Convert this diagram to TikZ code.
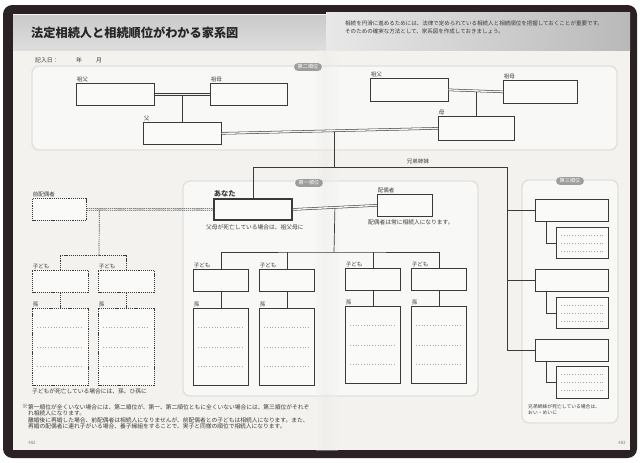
\documentclass[tikz,border=0pt]{standalone}
\usepackage{fontspec}
\setmainfont{Noto Sans CJK JP}
\usetikzlibrary{calc}
\definecolor{paper}{HTML}{F3F2EE}
\definecolor{cover}{HTML}{2B2024}
\definecolor{ink}{HTML}{3A3A3A}
\definecolor{panelline}{HTML}{E1E0DC}
\definecolor{badgec}{HTML}{9D9D9D}
\tikzset{
  famrect/.style 2 args={draw=ink, line width=0.6pt, fill=paper!40!white, inner sep=0pt, anchor=north west, minimum width=#1*0.03cm, minimum height=#2*0.03cm},
  exrect/.style 2 args={famrect={#1}{#2}, dash pattern=on 1pt off 0.8pt},
  lbl/.style={inner sep=0.6pt, anchor=south west, font=\fontsize{4.7}{5}\selectfont, text=ink},
  note/.style={inner sep=0pt, anchor=west, font=\fontsize{4.9}{5.6}\selectfont, text=ink},
  badge/.style={fill=badgec, text=white, rounded corners=3pt, inner xsep=3pt, inner ysep=1.2pt, font=\fontsize{4.4}{5}\selectfont},
  panel/.style={draw=panelline, line width=1.2pt, fill=paper!55!white, rounded corners=6pt},
  link/.style={draw=ink, line width=0.6pt},
  exlink/.style={link, dash pattern=on 1pt off 0.8pt},
  dbl/.style={draw=ink, line width=0.45pt, double=paper, double distance=1.2pt},
  exdbl/.style={dbl, dash pattern=on 1pt off 0.8pt},
  dotrule/.style={draw=gray!70, line width=0.35pt, dotted},
}
\begin{document}
\begin{tikzpicture}[x=0.03cm,y=-0.03cm]
        \useasboundingbox (0,0) rectangle (640,462);
        \fill[white] (0,0) rectangle (640,462);
        \fill[cover, rounded corners=8pt] (3,5) rectangle (637,458);
        \fill[paper] (13,14) rectangle (630,450);
        \shade[top color=gray!42, bottom color=gray!26] (13,15) rectangle (326,50);
        \shade[left color=gray!18, right color=gray!55] (326,12) rectangle (630,50);

        \draw[panel] (32,66) rectangle (617,150);
        \draw[panel] (183,181) rectangle (478,396);
        \draw[panel] (522,180) rectangle (618,423);
        \shade[left color=paper, right color=gray!20, opacity=0.35] (316,50) rectangle (327,450);
        \shade[left color=gray!15, right color=paper, opacity=0.35] (327,50) rectangle (338,450);

        \node[anchor=west, inner sep=0pt, font=\bfseries\fontsize{10.4}{12}\selectfont, text=black!85] (title) at (31,33) {法定相続人と相続順位がわかる家系図};
        \node[anchor=north west, align=left, inner sep=0pt, font=\fontsize{4.7}{6.2}\selectfont, text=ink] (intro) at (345,21) {相続を円滑に進めるためには、法律で定められている相続人と相続順位を把握しておくことが重要です。\\そのための確実な方法として、家系図を作成しておきましょう。};
        \node[note, font=\fontsize{5}{6}\selectfont] (date) at (35,60) {記入日：};
        \node[note, font=\fontsize{5}{6}\selectfont] (year) at (76,60) {年};
        \node[note, font=\fontsize{5}{6}\selectfont] (month) at (96,60) {月};

        \node[badge] (ord2) at (308,67) {第二順位};
        \node[badge] (ord1) at (309,183) {第一順位};
        \node[badge] (ord3) at (570,181) {第三順位};

        \node[famrect={78}{22}] (gfP) at (76,83) {};
        \node[famrect={77}{22}] (gmP) at (210,83) {};
        \node[famrect={78}{22}] (faP) at (143,122) {};
        \node[famrect={78}{23}] (gfM) at (370,78) {};
        \node[famrect={74}{23}] (gmM) at (503,80) {};
        \node[famrect={76}{24}] (moM) at (438,116) {};
        \node[lbl] (gfPl) at (gfP.north west) {祖父};
        \node[lbl] (gmPl) at (gmP.north west) {祖母};
        \node[lbl] (faPl) at (faP.north west) {父};
        \node[lbl] (gfMl) at (gfM.north west) {祖父};
        \node[lbl] (gmMl) at (gmM.north west) {祖母};
        \node[lbl] (moMl) at (moM.north west) {母};

        \node[famrect={78}{21}, line width=1.6pt] (you) at (213,198) {};
        \node[lbl, font=\bfseries\fontsize{6.2}{7}\selectfont] (youl) at (you.north west) {あなた};
        \node[note, anchor=north] (younote) at ($(you.south)+(2,4)$) {父母が死亡している場合は、祖父母に};
        \node[famrect={55}{22}] (sp) at (377,194) {};
        \node[lbl] (spl) at (sp.north west) {配偶者};
        \node[note, anchor=north] (spnote) at ($(sp.south)+(6,3)$) {配偶者は常に相続人になります。};

        \node[exrect={54}{22}] (ex) at (32,198) {};
        \node[lbl] (exl) at (ex.north west) {前配偶者};
        \node[exrect={56}{22}] (lc1) at (32,270) {};
        \node[exrect={56}{22}] (lc2) at (98,270) {};
        \node[exrect={56}{77}] (lg1) at (32,308) {};
        \node[exrect={56}{77}] (lg2) at (98,308) {};
        \node[lbl] (lc1l) at (lc1.north west) {子ども};
        \node[lbl] (lc2l) at (lc2.north west) {子ども};
        \node[lbl] (lg1l) at (lg1.north west) {孫};
        \node[lbl] (lg2l) at (lg2.north west) {孫};
        \node[note] (lgnote) at (32,391) {子どもが死亡している場合には、孫、ひ孫に};

        \node[famrect={55}{22}] (k1) at (193,269) {};
        \node[famrect={55}{22}] (k2) at (259,269) {};
        \node[famrect={55}{22}] (k3) at (345,268) {};
        \node[famrect={55}{22}] (k4) at (411,268) {};
        \node[famrect={55}{77}] (g1) at (193,308) {};
        \node[famrect={55}{77}] (g2) at (259,308) {};
        \node[famrect={55}{77}] (g3) at (345,306) {};
        \node[famrect={55}{77}] (g4) at (411,306) {};
        \node[lbl] (k1l) at (k1.north west) {子ども};
        \node[lbl] (k2l) at (k2.north west) {子ども};
        \node[lbl] (k3l) at (k3.north west) {子ども};
        \node[lbl] (k4l) at (k4.north west) {子ども};
        \node[lbl] (g1l) at (g1.north west) {孫};
        \node[lbl] (g2l) at (g2.north west) {孫};
        \node[lbl] (g3l) at (g3.north west) {孫};
        \node[lbl] (g4l) at (g4.north west) {孫};

        \node[famrect={73}{22}] (s1) at (535,199) {};
        \node[famrect={73}{22}] (s2) at (535,269) {};
        \node[famrect={73}{22}] (s3) at (535,339) {};
        \node[famrect={52}{31}] (n1) at (556,227) {};
        \node[famrect={52}{31}] (n2) at (556,297) {};
        \node[famrect={52}{32}] (n3) at (556,366) {};
        \node[lbl, anchor=south] (sibl) at (418,165) {兄弟姉妹};
        \node[note, anchor=north west, align=left, font=\fontsize{4.1}{5.7}\selectfont] (sibnote) at (528,404) {兄弟姉妹が死亡している場合は、\\おい・めいに};

        \node[note, anchor=north west] (fnmark) at (22,404) {※};
        \node[note, anchor=north west, align=left] (fntext) at (28,404) {第一順位が全くいない場合には、第二順位が、第一、第二順位ともに全くいない場合には、第三順位がそれぞ\\れ相続人になります。\\離婚後に再婚した場合、前配偶者は相続人になりませんが、前配偶者との子どもは相続人になります。また、\\再婚の配偶者に連れ子がいる場合、養子縁組をすることで、実子と同様の順位で相続人になります。};
        \node[font=\fontsize{3.8}{4}\selectfont, text=gray] (pgl) at (32,443) {482};
        \node[font=\fontsize{3.8}{4}\selectfont, text=gray] (pgr) at (622,443) {483};

        \coordinate (pPmid) at ($(gfP.east)!0.5!(gmP.west)$);
        \coordinate (pMmid) at ($(gfM.east)!0.5!(gmM.west)$);
        \coordinate (fmMid) at ($(faP.east)!0.52!(moM.west)$);
        \coordinate (sibEnd) at (507,167);
        \coordinate (cMid) at ($(you.east)!0.5!(sp.west)$);
        \coordinate (kidBar) at (334,252);
        \coordinate (exMid) at ($(ex.east)!0.1!(you.west)$);
        \coordinate (exBar) at (99,255);

        \draw[link] (pPmid) -- (pPmid |- faP.north);
        \draw[link] (pMmid) -- (pMmid |- moM.north);
        \draw[link] (fmMid) -- (fmMid |- sibEnd);
        \draw[link] (you.north) |- (sibEnd) |- (s3.west);
        \draw[link] (s1.west) -- (s1.west -| sibEnd);
        \draw[link] (s2.west) -- (s2.west -| sibEnd);
        \foreach \s/\n in {s1/n1,s2/n2,s3/n3}
            \draw[link] ($(\s.south west)+(11,0)$) |- (\n.west);
        \draw[link] (cMid) -- (kidBar);
        \draw[link] (k1.north) |- (kidBar) -| (k4.north);
        \draw[link] (k2.north) -- (k2.north |- kidBar);
        \draw[link] (k3.north) -- (k3.north |- kidBar);
        \foreach \a/\b in {k1/g1,k2/g2,k3/g3,k4/g4}
            \draw[link] (\a.south) -- (\a.south |- \b.north);
        \draw[exlink] (exMid) -- (exBar);
        \draw[exlink] (lc1.north) |- (exBar) -| (lc2.north);
        \foreach \a/\b in {lc1/lg1,lc2/lg2}
            \draw[exlink] (\a.south) -- (\a.south |- \b.north);

        \draw[dbl] (gfP.east) -- (gmP.west);
        \draw[dbl] (gfM.east) -- (gmM.west);
        \draw[dbl] (faP.east) -- (moM.west);
        \draw[dbl] (you.east) -- (sp.west);
        \draw[exdbl] (ex.east) -- (you.west);

        \foreach \b in {lg1,lg2,g1,g2,g3,g4,n1,n2,n3}
            \foreach \f in {0.25,0.5,0.75}
                \draw[dotrule] ($(\b.north west)!\f!(\b.south west)+(5,0)$) -- ($(\b.north east)!\f!(\b.south east)+(-5,0)$);
\end{tikzpicture}
\end{document}
